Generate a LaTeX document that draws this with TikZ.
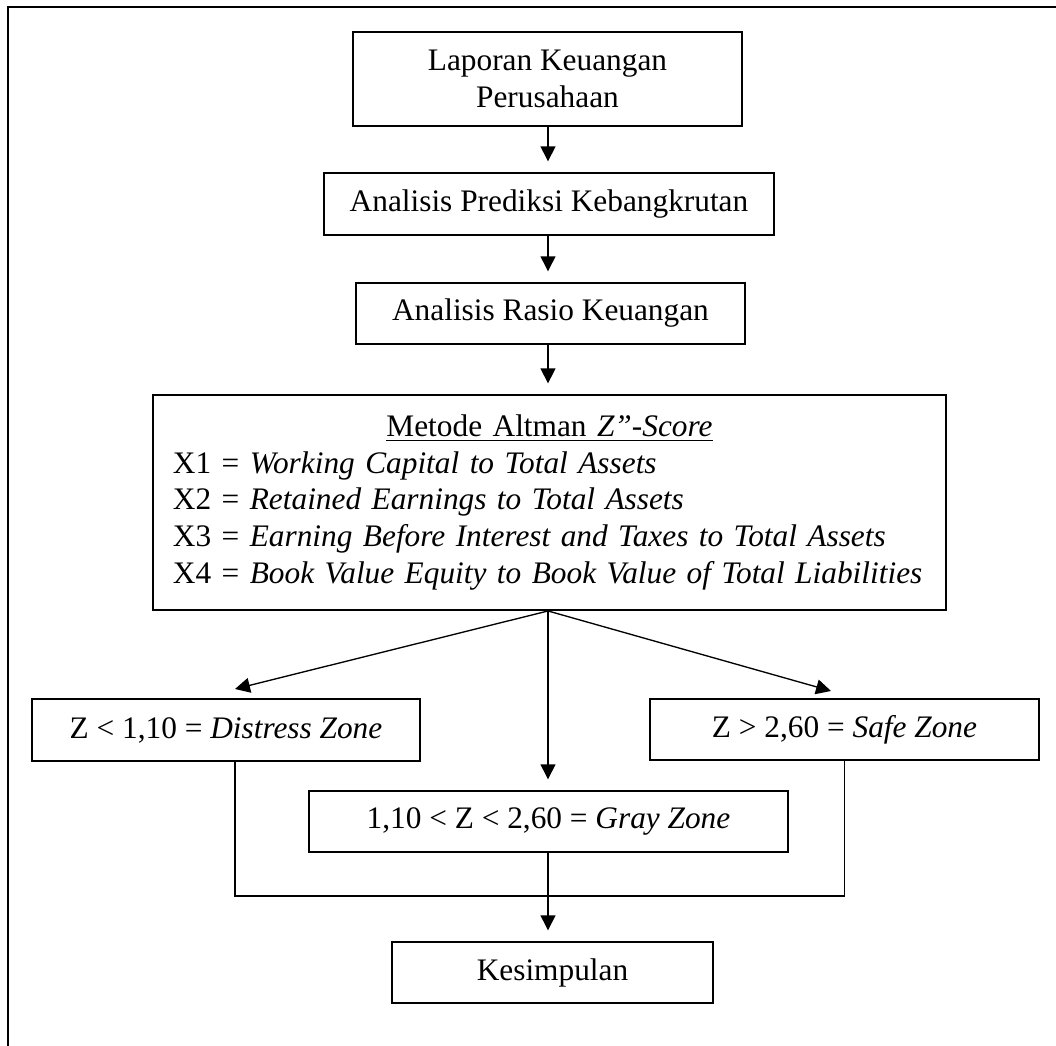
\documentclass[tikz,border=0pt]{standalone}
\usepackage{fontspec}
\setmainfont{Liberation Serif}
\usetikzlibrary{arrows.meta}
\begin{document}
\begin{tikzpicture}[x=0.375pt,y=-0.375pt,
  every node/.style={font=\fontsize{11.75}{13.8}\selectfont},
  box/.style={draw,line width=0.75pt,inner sep=0pt,align=center},
  conn/.style={line width=0.5pt},
  tip/.style={-{Triangle[length=5.6pt,width=5.6pt]}},
  arr/.style={conn,tip,shorten >=4pt}]
\useasboundingbox (0,0) rectangle (1056,1046);
\clip (0,0) rectangle (1056,1046);
% outer frame (right and bottom edges lie outside the picture)
\draw[line width=0.8pt] (8,1070) -- (8,7) -- (1080,7);

\coordinate (spine) at (548,0);
\coordinate (dx) at (235,0);
\coordinate (jy) at (0,896);

\node[box,minimum width=145.9pt,minimum height=35.25pt] (lap) at (547.5,79) {Laporan Keuangan\\Perusahaan};
\node[box,minimum width=168.75pt,minimum height=23.25pt] (pred) at (549,204) {Analisis Prediksi Kebangkrutan};
\node[box,minimum width=145.9pt,minimum height=22.9pt] (rasio) at (550.5,313.5) {Analisis Rasio Keuangan};
\node[box,align=left,inner xsep=7.5pt,inner ysep=0pt,text width=282.4pt,minimum height=80.6pt] (alt) at (549.5,502.5)
 {{\centering\underline{Metode Altman \textit{Z”-Score}}\par}
  \mbox{X1 = \textit{Working Capital to Total Assets}}\\
  \mbox{X2 = \textit{Retained Earnings to Total Assets}}\\
  \mbox{X3 = \textit{Earning Before Interest and Taxes to Total Assets}}\\
  \mbox{X4 = \textit{Book Value Equity to Book Value of Total Liabilities}}};
\node[box,minimum width=145.5pt,minimum height=23.25pt] (dz) at (226,730) {Z < 1,10 = \textit{Distress Zone}};
\node[box,minimum width=145.9pt,minimum height=22.9pt] (sz) at (844.5,729.5) {Z > 2,60 = \textit{Safe Zone}};
\node[box,minimum width=179.6pt,minimum height=22.9pt] (gz) at (548.5,821.5) {1,10 < Z < 2,60 = \textit{Gray Zone}};
\node[box,minimum width=120.4pt,minimum height=22.9pt] (kes) at (552.5,972.5) {Kesimpulan};

\coordinate (fan) at (alt.south -| spine);
\coordinate (dtip) at (235,689);
\coordinate (stip) at (831,691);

\draw[arr] (spine |- lap.south) -- (spine |- pred.north);
\draw[arr] (spine |- pred.south) -- (spine |- rasio.north);
\draw[arr] (spine |- rasio.south) -- (spine |- alt.north);
\draw[conn,tip] (fan) -- (dtip);
\draw[conn,tip] (fan) -- (stip);
\draw[arr] (fan) -- (spine |- gz.north);
\draw[conn] (dx |- dz.south) -- (dx |- jy) -- (sz.south |- jy) -- (sz.south);
\draw[arr] (spine |- gz.south) -- (spine |- kes.north);
\end{tikzpicture}
\end{document}
